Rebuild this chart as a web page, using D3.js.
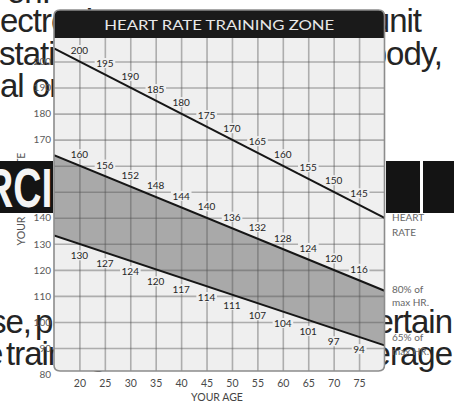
<!DOCTYPE html>
<html>
<head>
<meta charset="utf-8">
<script src="https://cdn.jsdelivr.net/npm/d3@7"></script>
<style>
  html, body { margin: 0; padding: 0; background: #fff; }
  svg { display: block; }
</style>
</head>
<body>
<svg id="chart" width="454" height="405"></svg>
<script>
// Training-zone values by age (bpm), as printed along each line
const ages   = [20, 25, 30, 35, 40, 45, 50, 55, 60, 65, 70, 75];
const maxHR  = [200, 195, 190, 185, 180, 175, 170, 165, 160, 155, 150, 145];
const zone80 = [160, 156, 152, 148, 144, 140, 136, 132, 128, 124, 120, 116];
const zone65 = [130, 127, 124, 120, 117, 114, 111, 107, 104, 101, 97, 94];

// Each line runs straight from the left edge (age 15) to the right edge (age 80)
const edgeAges   = [15, 80];
const maxHREdge  = [205, 140];
const zone80Edge = [164, 112];
const zone65Edge = [133.2, 91];

const yTicks = [80, 90, 100, 110, 120, 130, 140, 150, 160, 170, 180, 190, 200];
const xTicks = ages;

const titleText = "HEART RATE TRAINING ZONE";
const xTitle = "YOUR AGE";
const yTitle = "YOUR HEART RATE";
const rightLabels = [
  { text: "MAX", y: 203 }, { text: "HEART", y: 217 }, { text: "RATE", y: 232 },
  { text: "80% of", y: 289 }, { text: "max HR.", y: 302 },
  { text: "65% of", y: 337 }, { text: "max HR.", y: 351 }
];

// Page copy that sits behind the card (words placed one by one)
const pageWords = [
  { text: "on.", x: 7, y: 3, anchor: "start" },
  { text: "ectronic", x: 0, y: 32, anchor: "start" },
  { text: "unit", x: 421, y: 32, anchor: "end" },
  { text: "station", x: -1, y: 65, anchor: "start" },
  { text: "body,", x: 442, y: 65, anchor: "end" },
  { text: "al", x: 0, y: 97, anchor: "start" },
  { text: "or", x: 32, y: 97, anchor: "start" },
  { text: "se,", x: -10, y: 333, anchor: "start" },
  { text: "pe", x: 35, y: 333, anchor: "start" },
  { text: "certain", x: 452, y: 333, anchor: "end" },
  { text: "e", x: -15, y: 365, anchor: "start" },
  { text: "training", x: 6, y: 365, anchor: "start" },
  { text: "average", x: 452, y: 365, anchor: "end" }
];

const svg = d3.select("#chart");
const W = 454, H = 405;
svg.append("rect").attr("width", W).attr("height", H).attr("fill", "#fff");

// ---- background page text ----
const page = svg.append("g")
  .attr("font-family", "'Liberation Sans', Arial, sans-serif")
  .attr("font-size", 33)
  .attr("letter-spacing", -1)
  .attr("fill", "#242424");
page.selectAll("text").data(pageWords).join("text")
  .attr("x", d => d.x).attr("y", d => d.y)
  .attr("text-anchor", d => d.anchor)
  .text(d => d.text);

// ---- card geometry and scales ----
const L = 54, R = 384.5, T = 10, TB = 38, B = 371;
const x = d3.scaleLinear().domain([15, 80]).range([L, R]);
const y = d3.scaleLinear().domain([90, 200]).range([348, 61.5]);

// ---- axis text outside the card ----
const outer = svg.append("g").attr("font-family", "Lato, 'Open Sans', sans-serif");

const ax = outer.append("g").attr("transform", "translate(0,380)")
  .call(d3.axisBottom(x).tickValues(xTicks).tickSize(0).tickPadding(0));
ax.select(".domain").remove();
ax.selectAll("text").attr("font-size", 10.5).attr("fill", "#4a4a4a").attr("font-family", "Lato, sans-serif");

const ay = outer.append("g").attr("transform", `translate(51,0)`)
  .call(d3.axisLeft(y).tickValues(yTicks).tickSize(0).tickPadding(0));
ay.select(".domain").remove();
ay.selectAll("text").attr("font-size", 10).attr("fill", "#5a5a5a").attr("font-family", "Lato, sans-serif");

outer.append("text")
  .attr("x", 217).attr("y", 397).attr("dy", "0.35em")
  .attr("text-anchor", "middle").attr("font-size", 10.5).attr("fill", "#444")
  .text(xTitle);
outer.append("text")
  .attr("transform", "translate(21,199) rotate(-90)")
  .attr("dy", "0.35em")
  .attr("text-anchor", "middle").attr("font-size", 10.5).attr("fill", "#555")
  .text(yTitle);
outer.selectAll(".rlab").data(rightLabels).join("text")
  .attr("class", "rlab")
  .attr("x", 392).attr("y", d => d.y).attr("dy", "0.35em")
  .attr("font-size", 10).attr("fill", "#666")
  .text(d => d.text);

// ---- black heading strips over the page ----
svg.append("rect").attr("x", 0).attr("y", 161).attr("width", 53).attr("height", 52).attr("fill", "#141414");
svg.append("rect").attr("x", 386).attr("y", 161).attr("width", 34).attr("height", 52).attr("fill", "#141414");
svg.append("rect").attr("x", 423).attr("y", 161).attr("width", 31).attr("height", 52).attr("fill", "#141414");
svg.append("text")
  .attr("transform", "translate(-15,207) scale(0.7,1)")
  .attr("font-family", "'Liberation Sans', Arial, sans-serif")
  .attr("font-weight", "bold")
  .attr("font-size", 56)
  .attr("fill", "#f4f4f4")
  .text("RCI");

// ---- card ----
function roundRect(x0, y0, x1, y1, rt, rb) {
  return `M${x0},${y0 + rt} Q${x0},${y0} ${x0 + rt},${y0} L${x1 - rt},${y0} Q${x1},${y0} ${x1},${y0 + rt}` +
         ` L${x1},${y1 - rb} Q${x1},${y1} ${x1 - rb},${y1} L${x0 + rb},${y1} Q${x0},${y1} ${x0},${y1 - rb} Z`;
}

const defs = svg.append("defs");
defs.append("clipPath").attr("id", "plotClip")
  .append("path").attr("d", roundRect(L, TB, R, B, 0, 6));

const card = svg.append("g");
card.append("path").attr("d", roundRect(L, T, R, B, 6, 6)).attr("fill", "#efefef");

const plot = card.append("g").attr("clip-path", "url(#plotClip)");

// zone band between the 65% and 80% lines
plot.append("path")
  .datum(edgeAges.map((a, i) => ({ a, lo: zone65Edge[i], hi: zone80Edge[i] })))
  .attr("fill", "#a9a9a9")
  .attr("d", d3.area().x(d => x(d.a)).y0(d => y(d.lo)).y1(d => y(d.hi)));

// grid from axes
const gridColor = "rgba(80,80,80,0.42)";
const gx = plot.append("g").attr("transform", `translate(0,${B})`)
  .call(d3.axisBottom(x).tickValues(xTicks).tickSize(-(B - TB)).tickFormat(""));
const gy = plot.append("g").attr("transform", `translate(${L},0)`)
  .call(d3.axisLeft(y).tickValues([...yTicks, 210]).tickSize(-(R - L)).tickFormat(""));
[gx, gy].forEach(g => {
  g.select(".domain").remove();
  g.selectAll(".tick line").attr("stroke", gridColor).attr("stroke-width", 1.6);
});

// heart-rate lines
const lineGen = d3.line().x(d => x(d[0])).y(d => y(d[1]));
[maxHREdge, zone80Edge, zone65Edge].forEach(vals => {
  plot.append("path")
    .datum(edgeAges.map((a, i) => [a, vals[i]]))
    .attr("fill", "none").attr("stroke", "#161616").attr("stroke-width", 2)
    .attr("d", lineGen);
});

// value labels along the lines
function valueLabels(vals, offset) {
  const g = plot.append("g");
  ages.forEach((a, i) => {
    const lg = g.append("g");
    const t = lg.append("text")
      .attr("x", x(a)).attr("y", y(vals[i]) + offset)
      .attr("dy", "0.35em")
      .attr("text-anchor", "middle")
      .attr("font-family", "Lato, 'Open Sans', sans-serif")
      .attr("font-size", 10)
      .attr("fill", "#262626")
      .text(vals[i]);
    const bb = t.node().getBBox();
    lg.insert("rect", "text")
      .attr("x", bb.x - 1.5).attr("y", bb.y + 1)
      .attr("width", bb.width + 3).attr("height", bb.height - 2)
      .attr("fill", "#efefef");
  });
}
valueLabels(maxHR, -11);
valueLabels(zone80, -11);
valueLabels(zone65, 12);

// title bar
card.append("path").attr("d", roundRect(L, T, R, TB, 6, 0)).attr("fill", "#1a1a1a");
card.append("text")
  .attr("x", (L + R) / 2).attr("y", 29.5)
  .attr("text-anchor", "middle")
  .attr("font-family", "Lato, 'Open Sans', sans-serif")
  .attr("font-size", 13)
  .attr("fill", "#e8e8e8")
  .attr("textLength", 230).attr("lengthAdjust", "spacingAndGlyphs")
  .text(titleText);

// card outline
card.append("path").attr("d", roundRect(L, T, R, B, 6, 6))
  .attr("fill", "none").attr("stroke", "#8c8c8c").attr("stroke-width", 1.6);
</script>
</body>
</html>
